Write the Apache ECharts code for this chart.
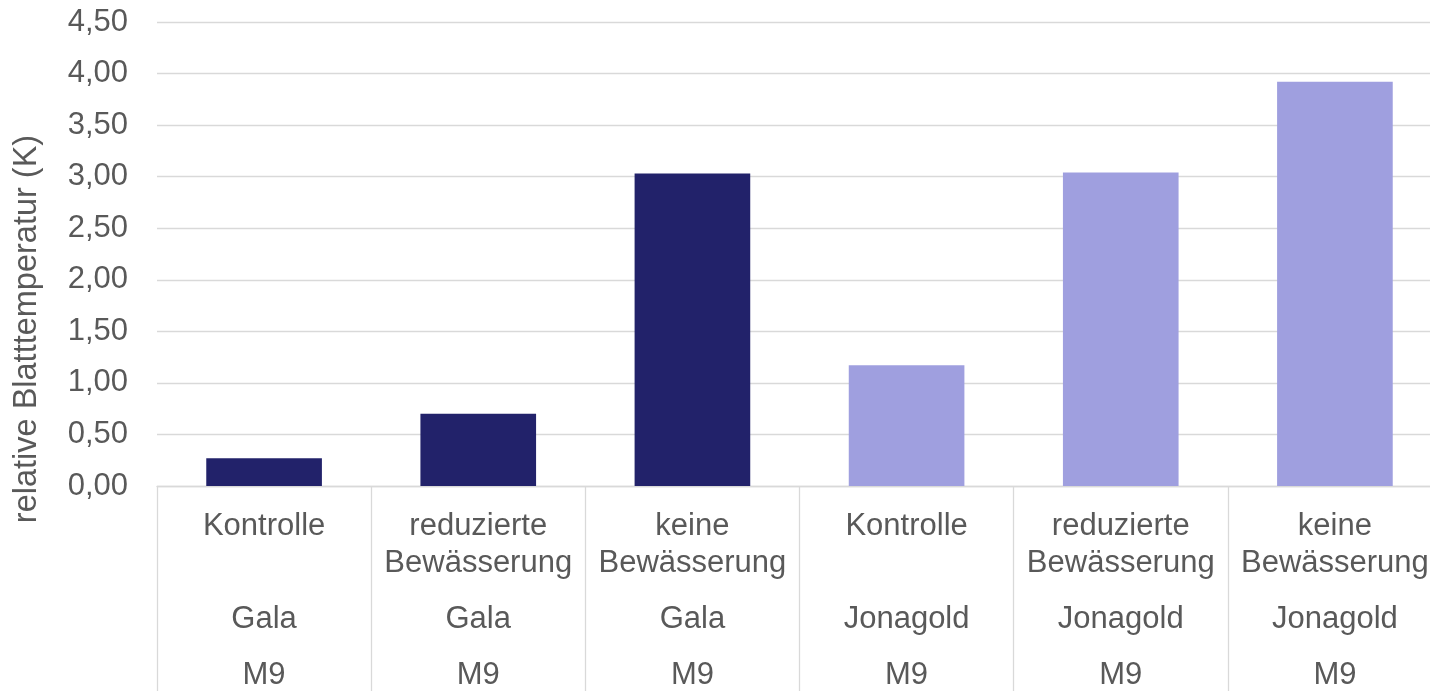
<!DOCTYPE html>
<html>
<head>
<meta charset="utf-8">
<script src="https://cdn.jsdelivr.net/npm/echarts@6/dist/echarts.min.js"></script>
<style>
html,body{margin:0;padding:0;background:#fff;overflow:hidden;width:1430px;height:691px;}
#c{width:1442px;height:691px;}
</style>
</head>
<body>
<div id="c"></div>
<script>
var treatments = [["Kontrolle"], ["reduzierte", "Bewässerung"], ["keine", "Bewässerung"], ["Kontrolle"], ["reduzierte", "Bewässerung"], ["keine", "Bewässerung"]];
var cultivars = ["Gala", "Gala", "Gala", "Jonagold", "Jonagold", "Jonagold"];
var rootstocks = ["M9", "M9", "M9", "M9", "M9", "M9"];
var values = [0.27, 0.70, 3.03, 1.17, 3.04, 3.92];
var barColors = ["#22226A", "#22226A", "#22226A", "#9F9FDF", "#9F9FDF", "#9F9FDF"];
var yTicks = {min: 0, max: 4.5, interval: 0.5};
var yTitle = "relative Blatttemperatur (K)";

var FONT = "'Liberation Sans', Arial, sans-serif";
var TXT = "#595959";
var categories = treatments.map(function (t, i) { return String(i); });

var chart = echarts.init(document.getElementById('c'));
chart.setOption({
  animation: false,
  backgroundColor: '#fff',
  grid: {left: 157, right: 0, top: 22, bottom: 205, containLabel: false},
  xAxis: {
    type: 'category',
    data: categories,
    axisLine: {show: true, lineStyle: {color: '#d9d9d9', width: 1.3}},
    axisTick: {show: true, interval: 0, length: 210, lineStyle: {color: '#d9d9d9', width: 1.3}},
    axisLabel: {
      interval: 0,
      margin: 22,
      formatter: function (v) {
        var i = +v;
        var t = treatments[i];
        var l1 = t[0];
        var l2 = t.length > 1 ? t[1] : ' ';
        return '{a|' + l1 + '}\n{a|' + l2 + '}\n{b|' + cultivars[i] + '}\n{c|' + rootstocks[i] + '}';
      },
      rich: {
        a: {fontFamily: FONT, fontSize: 31, color: TXT, lineHeight: 37, align: 'center'},
        b: {fontFamily: FONT, fontSize: 31, color: TXT, lineHeight: 75, align: 'center'},
        c: {fontFamily: FONT, fontSize: 31, color: TXT, lineHeight: 37, align: 'center'}
      }
    }
  },
  yAxis: {
    type: 'value',
    min: yTicks.min, max: yTicks.max, interval: yTicks.interval,
    axisLine: {show: false},
    axisTick: {show: false},
    splitLine: {lineStyle: {color: '#d9d9d9', width: 1.3}},
    axisLabel: {
      margin: 29,
      fontFamily: FONT, fontSize: 31, color: TXT,
      formatter: function (v) { return v.toFixed(2).replace('.', ','); }
    }
  },
  graphic: [{
    type: 'text',
    x: 27, y: 329,
    rotation: Math.PI / 2,
    style: {text: yTitle, fontFamily: FONT, fontSize: 32.5, fill: TXT, align: 'center', verticalAlign: 'middle'}
  }],
  series: [{
    type: 'bar',
    barWidth: '54%',
    data: values.map(function (v, i) { return {value: v, itemStyle: {color: barColors[i]}}; })
  }]
});
</script>
</body>
</html>
